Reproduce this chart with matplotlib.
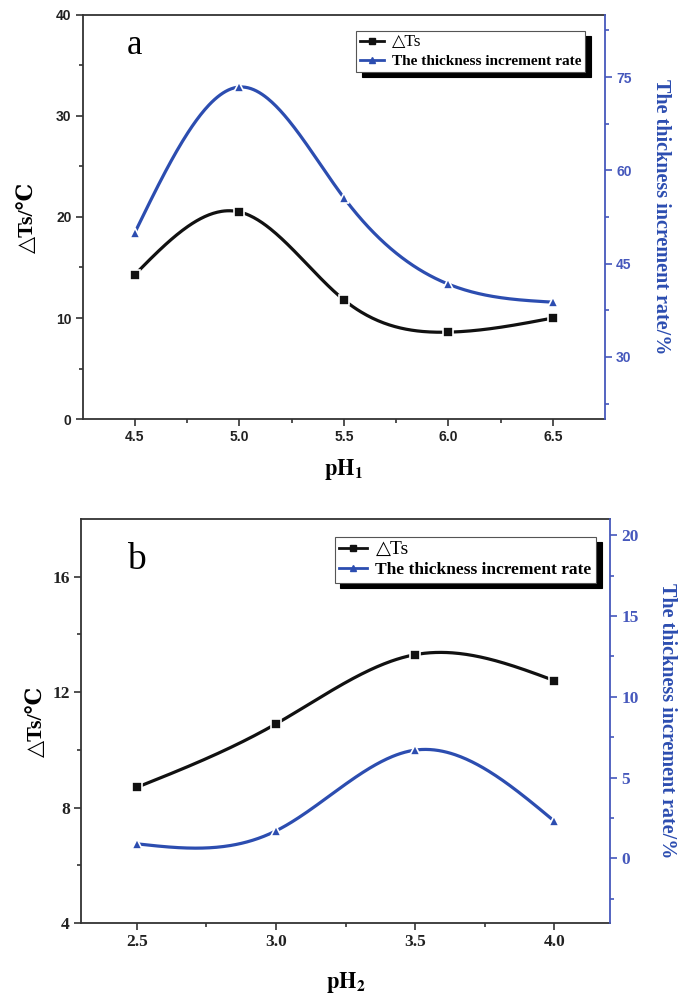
import matplotlib
matplotlib.use("Agg")
import matplotlib.pyplot as plt
import numpy as np

# panel a: first-step pH
ph1 = [4.5, 5.0, 5.5, 6.0, 6.5]
dts_a = [14.3, 20.5, 11.8, 8.6, 10.0]
rate_a = [50.0, 73.4, 55.6, 41.7, 38.8]

# panel b: second-step pH
ph2 = [2.5, 3.0, 3.5, 4.0]
dts_b = [8.7, 10.9, 13.3, 12.4]
rate_b = [0.9, 1.7, 6.7, 2.3]

BLACK = "#111111"
BLUE = "#2c4db0"
AXBLUE = "#4658bc"

plt.rcParams["mathtext.fontset"] = "stix"
SERIF = ["Liberation Serif", "DejaVu Serif"]
SANS = ["Liberation Sans", "DejaVu Sans"]


def natural_spline(x, y, n=300):
    """Natural cubic spline through the points (smooth Origin-style curve)."""
    x = np.asarray(x, float)
    y = np.asarray(y, float)
    k = len(x)
    h = np.diff(x)
    A = np.zeros((k, k))
    b = np.zeros(k)
    A[0, 0] = A[-1, -1] = 1.0
    for i in range(1, k - 1):
        A[i, i - 1] = h[i - 1]
        A[i, i] = 2 * (h[i - 1] + h[i])
        A[i, i + 1] = h[i]
        b[i] = 6 * ((y[i + 1] - y[i]) / h[i] - (y[i] - y[i - 1]) / h[i - 1])
    M = np.linalg.solve(A, b)
    xs = np.linspace(x[0], x[-1], n)
    idx = np.clip(np.searchsorted(x, xs) - 1, 0, k - 2)
    x0, x1 = x[idx], x[idx + 1]
    hh = x1 - x0
    t0, t1 = x1 - xs, xs - x0
    ys = (M[idx] * t0 ** 3 + M[idx + 1] * t1 ** 3) / (6 * hh) \
        + (y[idx] / hh - M[idx] * hh / 6) * t0 \
        + (y[idx + 1] / hh - M[idx + 1] * hh / 6) * t1
    return xs, ys


def draw_series(ax, x, y, color, marker, label):
    xs, ys = natural_spline(x, y)
    ax.plot(xs, ys, color=color, lw=2.3, solid_capstyle="round", zorder=2)
    ax.plot(x, y, ls="none", marker=marker, ms=6.5, color=color,
            mec="white", mew=1.2, zorder=3)
    # proxy for the legend: line-marker-line
    return ax.plot([], [], color=color, lw=2.0, marker=marker, ms=5,
                   label=label)[0]


def style_axes(ax, ax2, tick_family, tick_size):
    for side in ("left", "bottom", "top"):
        ax.spines[side].set_color("#333333")
        ax.spines[side].set_linewidth(1.3)
    ax.spines["right"].set_visible(False)
    for side in ("left", "bottom", "top"):
        ax2.spines[side].set_visible(False)
    ax2.spines["right"].set_color(AXBLUE)
    ax2.spines["right"].set_linewidth(1.3)
    ax.tick_params(which="both", direction="out", width=1.2, colors="#333333",
                   top=False, right=False)
    ax.tick_params(which="major", length=5, pad=3)
    ax.tick_params(which="minor", length=3)
    ax2.tick_params(which="both", direction="out", width=1.2, colors=AXBLUE)
    ax2.tick_params(which="major", length=5, pad=3)
    ax2.tick_params(which="minor", length=3)
    for lab in ax.get_xticklabels() + ax.get_yticklabels():
        lab.set_family(tick_family)
        lab.set_fontweight("bold")
        lab.set_fontsize(tick_size)
        lab.set_color("#222222")
    for lab in ax2.get_yticklabels():
        lab.set_family(tick_family)
        lab.set_fontweight("bold")
        lab.set_fontsize(tick_size)
        lab.set_color(AXBLUE)


def add_legend(ax, handles, anchor, fsize):
    leg = ax.legend(handles=handles, loc="upper right", bbox_to_anchor=anchor,
                    fancybox=False, frameon=True, edgecolor="#555555",
                    framealpha=1, handlelength=1.6, handletextpad=0.5,
                    borderpad=0.25, labelspacing=0.25,
                    shadow={"ox": 4, "oy": -4, "facecolor": "black",
                            "edgecolor": "black", "alpha": 1},
                    prop={"family": SERIF, "weight": "bold", "size": fsize})
    leg.get_frame().set_linewidth(0.8)
    leg.texts[0].set_fontweight("normal")
    leg.texts[0].set_fontsize(fsize + 1.5)
    return leg


fig = plt.figure(figsize=(6.81, 9.93), dpi=100)

# ---- panel a ----
ax = fig.add_axes([0.1214, 0.578, 0.767, 0.407])
ax2 = ax.twinx()
h1 = draw_series(ax, ph1, dts_a, BLACK, "s", "△Ts")
h2 = draw_series(ax2, ph1, rate_a, BLUE, "^", "The thickness increment rate")
ax.set_xlim(4.25, 6.75)
ax.set_ylim(0, 40)
ax2.set_ylim(20, 85)
ax.set_xticks([4.5, 5.0, 5.5, 6.0, 6.5])
ax.set_xticks([4.75, 5.25, 5.75, 6.25], minor=True)
ax.set_yticks([0, 10, 20, 30, 40])
ax.set_yticks([5, 15, 25, 35], minor=True)
ax2.set_yticks([30, 45, 60, 75])
ax2.set_yticks([22.5, 37.5, 52.5, 67.5, 82.5], minor=True)
ax.set_xticklabels(["4.5", "5.0", "5.5", "6.0", "6.5"])
style_axes(ax, ax2, SANS, 10)
ax.set_xlabel(r"$\mathbf{pH}_{\mathbf{1}}$", fontsize=16, labelpad=9)
ax.set_ylabel("△Ts/℃", family=SERIF, fontweight="bold", fontsize=16,
              labelpad=13)
ax2.set_ylabel("The thickness increment rate/%", family=SERIF,
               fontweight="bold", fontsize=14.5, color=BLUE, rotation=270,
               labelpad=28)
ax.text(0.1, 0.925, "a", transform=ax.transAxes, family=SERIF, fontsize=25,
        ha="center", va="center")
add_legend(ax2, [h1, h2], (0.977, 0.98), 11)

# ---- panel b ----
bx = fig.add_axes([0.119, 0.0705, 0.7768, 0.4068])
bx2 = bx.twinx()
g1 = draw_series(bx, ph2, dts_b, BLACK, "s", "△Ts")
g2 = draw_series(bx2, ph2, rate_b, BLUE, "^", "The thickness increment rate")
bx.set_xlim(2.3, 4.2)
bx.set_ylim(4, 18)
bx2.set_ylim(-4, 21)
bx.set_xticks([2.5, 3.0, 3.5, 4.0])
bx.set_xticks([2.75, 3.25, 3.75], minor=True)
bx.set_yticks([4, 8, 12, 16])
bx.set_yticks([6, 10, 14], minor=True)
bx2.set_yticks([0, 5, 10, 15, 20])
bx2.set_yticks([-2.5, 2.5, 7.5, 12.5, 17.5], minor=True)
bx.set_xticklabels(["2.5", "3.0", "3.5", "4.0"])
style_axes(bx, bx2, SERIF, 12.5)
bx.set_xlabel(r"$\mathbf{pH}_{\mathbf{2}}$", fontsize=16, labelpad=14)
bx.set_ylabel("△Ts/℃", family=SERIF, fontweight="bold", fontsize=16,
              labelpad=4)
bx2.set_ylabel("The thickness increment rate/%", family=SERIF,
               fontweight="bold", fontsize=14.5, color=BLUE, rotation=270,
               labelpad=28)
bx.text(0.105, 0.9, "b", transform=bx.transAxes, family=SERIF, fontsize=27,
        ha="center", va="center")
add_legend(bx2, [g1, g2], (0.99, 0.978), 12.5)

fig.savefig("out.png", dpi=100)
